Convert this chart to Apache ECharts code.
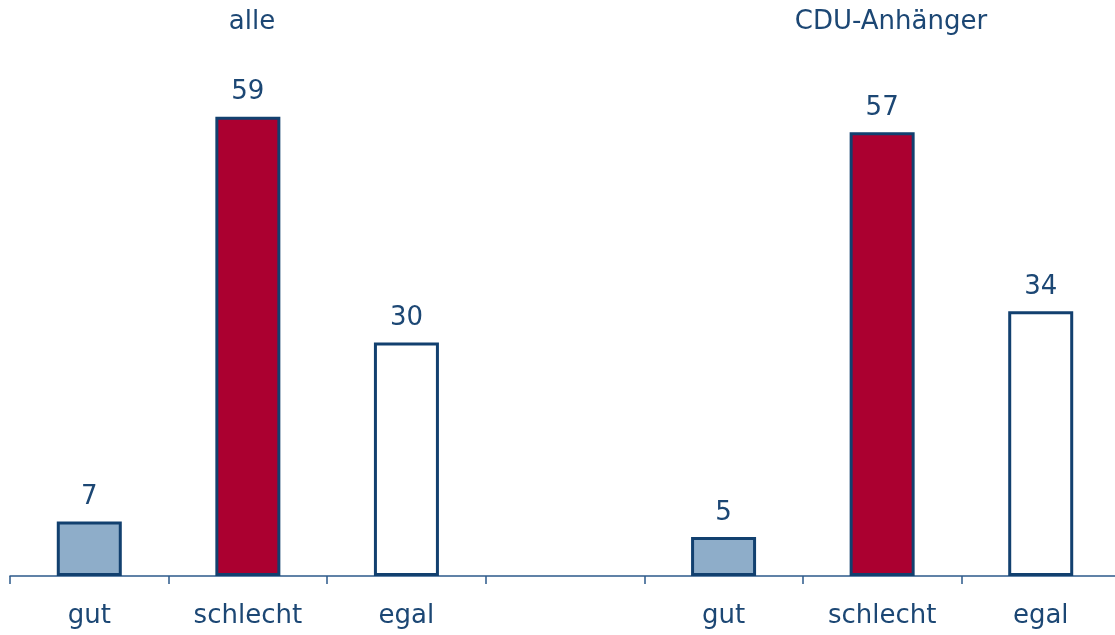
<!DOCTYPE html>
<html><head><meta charset="utf-8">
<script src="https://cdn.jsdelivr.net/npm/echarts@6/dist/echarts.min.js"></script>
<style>html,body{margin:0;padding:0;background:#fff;overflow:hidden}#c{width:1120px;height:635px}</style>
</head><body><div id="c"></div>
<script>
const categories = ['gut','schlecht','egal','','gut','schlecht','egal'];
const values = [7,59,30,null,5,57,34];
const groupTitles = ['alle','CDU-Anhänger'];
const barColors = ['#8eadc9','#ab0030','#ffffff',null,'#8eadc9','#ab0030','#ffffff'];
const textColor = '#1c4774';
const chart = echarts.init(document.getElementById('c'));
chart.setOption({
  animation:false,
  backgroundColor:'#fff',
  textStyle:{fontFamily:'DejaVu Sans'},
  grid:{left:10,right:0,top:31,bottom:59,containLabel:false},
  title:[
    {text:groupTitles[0],left:247,top:4,textAlign:'center',textStyle:{color:textColor,fontSize:26,fontWeight:'normal',fontFamily:'DejaVu Sans'}},
    {text:groupTitles[1],left:886,top:4,textAlign:'center',textStyle:{color:textColor,fontSize:26,fontWeight:'normal',fontFamily:'DejaVu Sans'}}
  ],
  xAxis:{type:'category',data:categories,
    axisLine:{lineStyle:{color:'#2c5a8a',width:1.5}},
    axisTick:{show:true,length:8,lineStyle:{color:'#2c5a8a',width:1.5}},
    axisLabel:{color:textColor,fontSize:26,margin:27,fontFamily:'DejaVu Sans'}},
  yAxis:{type:'value',min:0,max:70,show:false,splitLine:{show:false}},
  series:[{type:'bar',barWidth:65,
    data:values.map((v,i)=>v==null?'-':{value:v,itemStyle:{color:barColors[i]}}),
    itemStyle:{borderColor:'#12406f',borderWidth:3},
    label:{show:true,position:'top',distance:11,color:textColor,fontSize:26,fontFamily:'DejaVu Sans'}}]
});
</script></body></html>
